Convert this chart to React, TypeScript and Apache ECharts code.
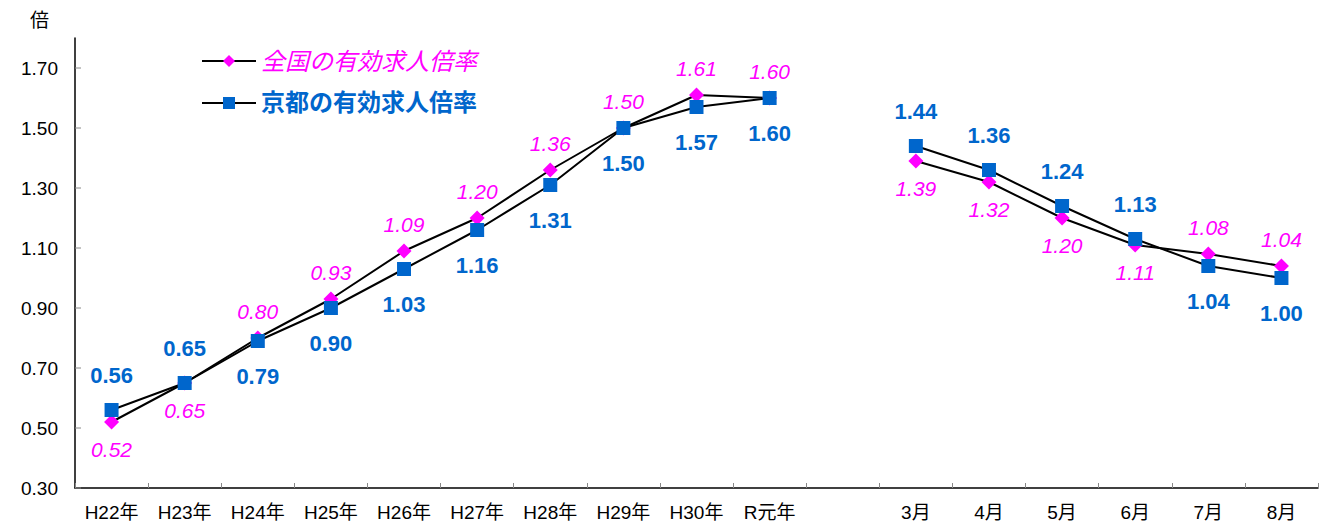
import React, { useEffect, useRef } from "react";
import * as echarts from "echarts";

const categories = ["H22年", "H23年", "H24年", "H25年", "H26年", "H27年", "H28年", "H29年", "H30年", "R元年", "", "3月", "4月", "5月", "6月", "7月", "8月"];
const nationalValues: (number | null)[] = [0.52, 0.65, 0.80, 0.93, 1.09, 1.20, 1.36, 1.50, 1.61, 1.60, null, 1.39, 1.32, 1.20, 1.11, 1.08, 1.04];
const kyotoValues: (number | null)[] = [0.56, 0.65, 0.79, 0.90, 1.03, 1.16, 1.31, 1.50, 1.57, 1.60, null, 1.44, 1.36, 1.24, 1.13, 1.04, 1.00];
const nationalLabelPos = ["bottom", "bottom", "top", "top", "top", "top", "top", "top", "top", "top", "top", "bottom", "bottom", "bottom", "bottom", "top", "top"];
const kyotoLabelPos = ["top", "top", "bottom", "bottom", "bottom", "bottom", "bottom", "bottom", "bottom", "bottom", "top", "top", "top", "top", "top", "bottom", "bottom"];
const yTickValues = [0.3, 0.5, 0.7, 0.9, 1.1, 1.3, 1.5, 1.7];
const seriesNames = ["全国の有効求人倍率", "京都の有効求人倍率"];

const FONT = "'Liberation Sans', 'Noto Sans CJK JP', sans-serif";
const MAGENTA = "#FF00FF";
const BLUE = "#0066CC";

export default function App() {
  const ref = useRef<HTMLDivElement>(null);
  useEffect(() => {
    if (!ref.current) return;
    const chart = echarts.init(ref.current, undefined, { renderer: "svg" });
    chart.setOption({
      animation: false,
      backgroundColor: "#fff",
      grid: { left: 75, right: 7, top: 38, bottom: 38, containLabel: false },
      graphic: [
        { type: "text", left: 30, top: 11, style: { text: "倍", font: `19px ${FONT}`, fill: "#000" } },
      ],
      legend: {
        orient: "vertical",
        left: 196,
        top: 44,
        itemWidth: 54,
        itemHeight: 15,
        itemGap: 18,
        data: [
          { name: seriesNames[0], textStyle: { color: MAGENTA, fontStyle: "italic", fontSize: 24, fontFamily: FONT } },
          { name: seriesNames[1], textStyle: { color: BLUE, fontWeight: "bold", fontSize: 24, fontFamily: FONT } },
        ],
      },
      xAxis: {
        type: "category",
        data: categories,
        boundaryGap: true,
        axisLine: { lineStyle: { color: "#000", width: 1.5 } },
        axisTick: { show: true, inside: true, length: 5, lineStyle: { color: "#888" } },
        axisLabel: { color: "#000", fontSize: 19, fontFamily: FONT, margin: 15, interval: 0 },
        splitLine: { show: false },
      },
      yAxis: {
        type: "value",
        min: 0.3,
        max: 1.8,
        interval: 0.1,
        axisLine: { show: true, lineStyle: { color: "#000", width: 1.5 } },
        axisTick: { show: false },
        splitLine: { show: false },
        axisLabel: {
          color: "#000",
          fontSize: 19,
          fontFamily: FONT,
          margin: 17,
          formatter: (v: number) => {
            const n = Math.round(v * 10);
            return n % 2 === 1 && n <= 17 ? v.toFixed(2) : "";
          },
        },
      },
      series: [
        {
          name: seriesNames[0],
          type: "line",
          data: nationalValues.map((v, i) => ({
            value: v,
            label: { position: nationalLabelPos[i] },
          })),
          connectNulls: false,
          symbol: "diamond",
          symbolSize: 15,
          itemStyle: { color: MAGENTA },
          lineStyle: { color: "#000", width: 2 },
          label: {
            show: true,
            color: MAGENTA,
            fontStyle: "italic",
            fontSize: 21,
            fontFamily: FONT,
            distance: 9,
            formatter: (p: any) => (p.value == null ? "" : Number(p.value).toFixed(2)),
          },
          z: 3,
        },
        {
          name: seriesNames[1],
          type: "line",
          data: kyotoValues.map((v, i) => ({
            value: v,
            label: { position: kyotoLabelPos[i] },
          })),
          connectNulls: false,
          symbol: "rect",
          symbolSize: 14,
          itemStyle: { color: BLUE },
          lineStyle: { color: "#000", width: 2 },
          label: {
            show: true,
            color: BLUE,
            fontWeight: "bold",
            fontSize: 22,
            fontFamily: FONT,
            distance: 17,
            formatter: (p: any) => (p.value == null ? "" : Number(p.value).toFixed(2)),
          },
          z: 4,
        },
        {
          type: "custom",
          silent: true,
          data: yTickValues.map((v) => [0, v]),
          renderItem: (params: any, api: any) => {
            const pt = api.coord([0, api.value(1)]);
            const x0 = params.coordSys.x;
            return {
              type: "line",
              shape: { x1: x0, y1: pt[1], x2: x0 + 6, y2: pt[1] },
              style: { stroke: "#888", lineWidth: 1 },
            };
          },
          z: 1,
        },
      ],
    });
    return () => chart.dispose();
  }, []);
  return <div ref={ref} style={{ position: "absolute", left: 0, top: 0, width: 1325, height: 526 }} />;
}
